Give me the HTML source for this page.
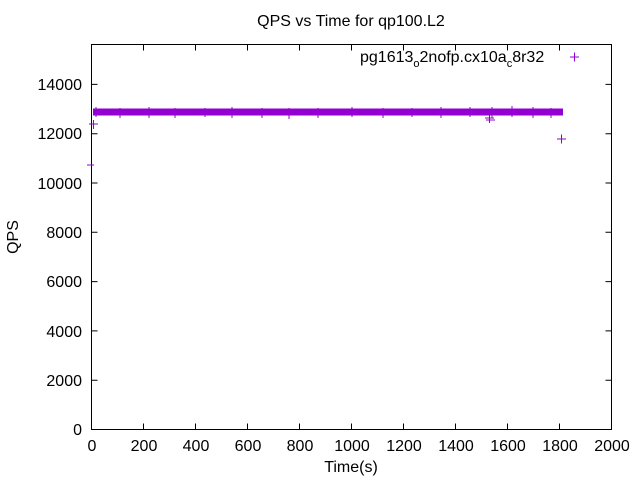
<!DOCTYPE html>
<html><head><style>body{margin:0;background:#fff}svg{display:block}text{font-family:"Liberation Sans",sans-serif;fill:#000}</style></head><body>
<svg width="640" height="480" viewBox="0 0 640 480">
<text x="351" y="26" font-size="16" text-anchor="middle">QPS vs Time for qp100.L2</text>
<g stroke="#000" stroke-width="1" fill="none">
<rect x="91.5" y="44.5" width="520" height="385"/>
<path d="M91.5 429.5h6M91.5 380.2h6M91.5 330.9h6M91.5 281.6h6M91.5 232.3h6M91.5 183h6M91.5 133.7h6M91.5 84.4h6
M611.5 380.2h-6M611.5 330.9h-6M611.5 281.6h-6M611.5 232.3h-6M611.5 183h-6M611.5 133.7h-6M611.5 84.4h-6
M143.5 429.5v-6M195.5 429.5v-6M247.5 429.5v-6M299.5 429.5v-6M351.5 429.5v-6M403.5 429.5v-6M455.5 429.5v-6M507.5 429.5v-6M559.5 429.5v-6
M143.5 44.5v6M195.5 44.5v6M247.5 44.5v6M299.5 44.5v6M351.5 44.5v6M403.5 44.5v6M455.5 44.5v6M507.5 44.5v6M559.5 44.5v6"/>
</g>
<g font-size="16" text-anchor="end">
<text x="82" y="435">0</text><text x="82" y="386">2000</text><text x="82" y="337">4000</text><text x="82" y="287">6000</text><text x="82" y="238">8000</text><text x="82" y="189">10000</text><text x="82" y="139">12000</text><text x="82" y="90">14000</text>
</g>
<g font-size="16" text-anchor="middle">
<text x="92" y="451">0</text><text x="144" y="451">200</text><text x="196" y="451">400</text><text x="248" y="451">600</text><text x="300" y="451">800</text><text x="352" y="451">1000</text><text x="404" y="451">1200</text><text x="456" y="451">1400</text><text x="508" y="451">1600</text><text x="560" y="451">1800</text><text x="612" y="451">2000</text>
<text x="351" y="472">Time(s)</text>
</g>
<text transform="translate(18,237) rotate(-90)" font-size="16" text-anchor="middle">QPS</text>
<text x="360" y="62" font-size="16">pg1613<tspan font-size="11" dy="5">o</tspan><tspan dy="-5">2nofp.cx10a</tspan><tspan font-size="11" dy="5">c</tspan><tspan dy="-5">8r32</tspan></text>
<g stroke="#9400d3" stroke-width="1" fill="none">
<path d="M570 57h9M574.5 52.5v9"/>
<rect x="93" y="108.5" width="470" height="7" fill="#9400d3" stroke="none"/>
<path d="M96 107v10M120 108v10M149 107v11M175 108v10M205 108v9M232 107v11M262 108v10M289 108v11M318 108v10M352 107v10M383 108v10M412 108v9M441 107v11M470 107v10M492 107v11M512 106v11M533 107v11M551 108v10
M89 124h9M93.5 120v9M87 165h7M485 118h9M489.5 114v9M486 120h9M557 139h9M561.5 134.5v9"/>
</g>
</svg>
</body></html>
